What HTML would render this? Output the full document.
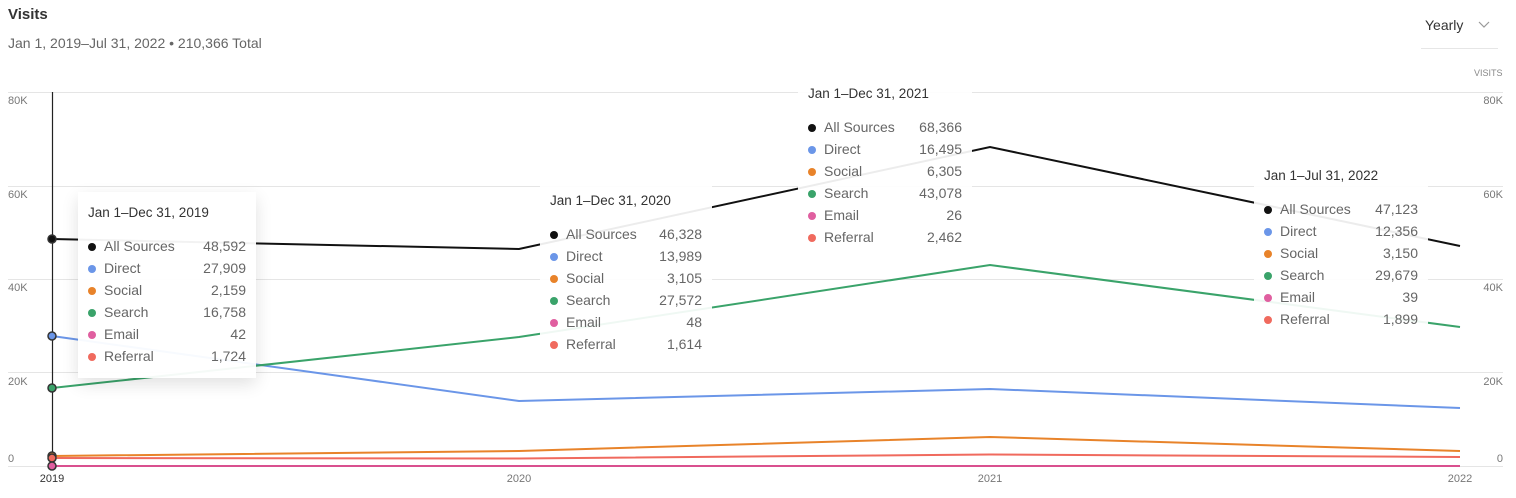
<!DOCTYPE html>
<html><head><meta charset="utf-8"><style>
body{margin:0;width:1516px;height:498px;background:#fff;font-family:"Liberation Sans",sans-serif;position:relative;overflow:hidden}
.t{position:absolute;white-space:nowrap}
.tip{position:absolute;background:rgba(255,255,255,0.92);font-size:14px;color:#666}
.tip .h{position:absolute;left:10px;color:#333;font-size:13.5px}
.tip .r{position:absolute;left:10px;right:10px;height:22px}
.tip .r i{position:absolute;left:0;top:5px;width:8px;height:8px;border-radius:50%}
.tip .r span{position:absolute;left:16px;top:0}
.tip .r b{position:absolute;right:0;top:0;font-weight:normal}
</style></head><body>
<div class="t" style="left:8px;top:6px;font-size:15px;font-weight:bold;color:#333">Visits</div>
<div class="t" style="left:8px;top:35px;font-size:14px;color:#666">Jan 1, 2019–Jul 31, 2022 • 210,366 Total</div>
<div class="t" style="left:1425px;top:17px;font-size:14px;color:#333">Yearly</div>
<svg style="position:absolute;left:1478px;top:21px" width="12" height="8"><path d="M1 1 L6 6 L11 1" fill="none" stroke="#999" stroke-width="1.2"/></svg>
<div style="position:absolute;left:1421px;top:48px;width:77px;height:1px;background:#e6e6e6"></div>
<div class="t" style="left:1474px;top:68px;font-size:9px;color:#888">VISITS</div>
<svg style="position:absolute;left:0;top:0" width="1516" height="498">
<g stroke="#e5e5e5" stroke-width="1">
<line x1="8" x2="1503" y1="92.5" y2="92.5"/><line x1="8" x2="1503" y1="186.5" y2="186.5"/><line x1="8" x2="1503" y1="279.5" y2="279.5"/><line x1="8" x2="1503" y1="372.5" y2="372.5"/><line x1="8" x2="1503" y1="466.5" y2="466.5"/>
</g>
<g font-size="11" fill="#777" font-family="Liberation Sans">
<text x="8" y="104">80K</text><text x="8" y="198">60K</text><text x="8" y="291">40K</text><text x="8" y="385">20K</text><text x="8" y="462">0</text>
<text x="1503" y="104" text-anchor="end">80K</text><text x="1503" y="198" text-anchor="end">60K</text><text x="1503" y="291" text-anchor="end">40K</text><text x="1503" y="385" text-anchor="end">20K</text><text x="1503" y="462" text-anchor="end">0</text>
<text x="52" y="482" text-anchor="middle" fill="#333">2019</text><text x="519" y="482" text-anchor="middle">2020</text><text x="990" y="482" text-anchor="middle">2021</text><text x="1460" y="482" text-anchor="middle">2022</text>
</g>
<g fill="none" stroke-width="2">
<polyline stroke="#6b96e8" points="52,336 519,401 990,389 1460,408"/>
<polyline stroke="#3aa36a" points="52,388 519,337 990,265 1460,327"/>
<polyline stroke="#e8832a" points="52,456 519,451 990,437 1460,451"/>
<polyline stroke="#f06a5e" points="52,458 519,458.5 990,454.5 1460,457"/>
<polyline stroke="#d9508f" points="52,466 519,466 990,466 1460,466"/>
<polyline stroke="#111" points="52,239 519,249 990,147 1460,246"/>
</g>
<line x1="52.5" x2="52.5" y1="92" y2="466" stroke="#222" stroke-width="1.2"/>
<g stroke="#333" stroke-width="1.5">
<circle cx="52" cy="239" r="4" fill="#111"/><circle cx="52" cy="336" r="4" fill="#6b96e8"/><circle cx="52" cy="388" r="4" fill="#3aa36a"/>
<circle cx="52" cy="456" r="4" fill="#e8832a"/><circle cx="52" cy="458" r="4" fill="#f06a5e"/><circle cx="52" cy="466" r="4" fill="#e05fa0"/>
</g>
</svg>

<div class="tip" style="left:78px;top:192px;width:178px;height:186px;box-shadow:0 6px 16px rgba(0,0,0,0.12);background:rgba(255,255,255,0.95)">
<div class="h" style="top:13px">Jan 1–Dec 31, 2019</div>
<div class="r" style="top:46px"><i style="background:#111"></i><span>All Sources</span><b>48,592</b></div>
<div class="r" style="top:68px"><i style="background:#6b96e8"></i><span>Direct</span><b>27,909</b></div>
<div class="r" style="top:90px"><i style="background:#e8832a"></i><span>Social</span><b>2,159</b></div>
<div class="r" style="top:112px"><i style="background:#3aa36a"></i><span>Search</span><b>16,758</b></div>
<div class="r" style="top:134px"><i style="background:#e05fa0"></i><span>Email</span><b>42</b></div>
<div class="r" style="top:156px"><i style="background:#f06a5e"></i><span>Referral</span><b>1,724</b></div>
</div>

<div class="tip" style="left:540px;top:185px;width:172px;height:170px">
<div class="h" style="top:8px">Jan 1–Dec 31, 2020</div>
<div class="r" style="top:41px"><i style="background:#111"></i><span>All Sources</span><b>46,328</b></div>
<div class="r" style="top:63px"><i style="background:#6b96e8"></i><span>Direct</span><b>13,989</b></div>
<div class="r" style="top:85px"><i style="background:#e8832a"></i><span>Social</span><b>3,105</b></div>
<div class="r" style="top:107px"><i style="background:#3aa36a"></i><span>Search</span><b>27,572</b></div>
<div class="r" style="top:129px"><i style="background:#e05fa0"></i><span>Email</span><b>48</b></div>
<div class="r" style="top:151px"><i style="background:#f06a5e"></i><span>Referral</span><b>1,614</b></div>
</div>

<div class="tip" style="left:798px;top:78px;width:174px;height:170px">
<div class="h" style="top:8px">Jan 1–Dec 31, 2021</div>
<div class="r" style="top:41px"><i style="background:#111"></i><span>All Sources</span><b>68,366</b></div>
<div class="r" style="top:63px"><i style="background:#6b96e8"></i><span>Direct</span><b>16,495</b></div>
<div class="r" style="top:85px"><i style="background:#e8832a"></i><span>Social</span><b>6,305</b></div>
<div class="r" style="top:107px"><i style="background:#3aa36a"></i><span>Search</span><b>43,078</b></div>
<div class="r" style="top:129px"><i style="background:#e05fa0"></i><span>Email</span><b>26</b></div>
<div class="r" style="top:151px"><i style="background:#f06a5e"></i><span>Referral</span><b>2,462</b></div>
</div>

<div class="tip" style="left:1254px;top:160px;width:174px;height:170px">
<div class="h" style="top:8px">Jan 1–Jul 31, 2022</div>
<div class="r" style="top:41px"><i style="background:#111"></i><span>All Sources</span><b>47,123</b></div>
<div class="r" style="top:63px"><i style="background:#6b96e8"></i><span>Direct</span><b>12,356</b></div>
<div class="r" style="top:85px"><i style="background:#e8832a"></i><span>Social</span><b>3,150</b></div>
<div class="r" style="top:107px"><i style="background:#3aa36a"></i><span>Search</span><b>29,679</b></div>
<div class="r" style="top:129px"><i style="background:#e05fa0"></i><span>Email</span><b>39</b></div>
<div class="r" style="top:151px"><i style="background:#f06a5e"></i><span>Referral</span><b>1,899</b></div>
</div>
</body></html>
